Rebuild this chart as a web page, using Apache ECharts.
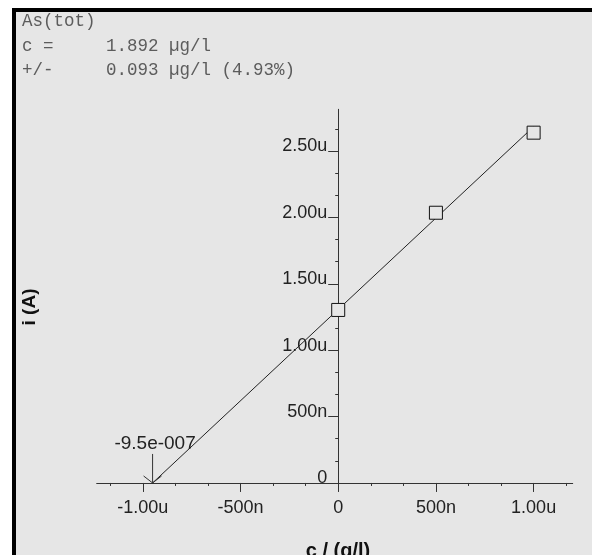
<!DOCTYPE html>
<html>
<head>
<meta charset="utf-8">
<script src="https://cdn.jsdelivr.net/npm/echarts@6/dist/echarts.min.js"></script>
<style>
html,body{margin:0;padding:0;background:#fff;}
#chart{width:592px;height:555px;}
</style>
</head>
<body>
<div id="chart"></div>
<script>
// ---- data ----
const headerLines = ['As(tot)', 'c =     1.892 µg/l', '+/-     0.093 µg/l (4.93%)'];
const xTickValues = [-1e-6, -5e-7, 0, 5e-7, 1e-6];
const xTickLabels = ['-1.00u', '-500n', '0', '500n', '1.00u'];
const yTickValues = [0, 5e-7, 1e-6, 1.5e-6, 2e-6, 2.5e-6];
const yTickLabels = ['0', '500n', '1.00u', '1.50u', '2.00u', '2.50u'];
const xMinorTicks = [-1.1667e-6, -8.333e-7, -6.667e-7, -3.333e-7, -1.667e-7, 1.667e-7, 3.333e-7, 6.667e-7, 8.333e-7, 1.1667e-6];
const yMinorTicks = [1.667e-7, 3.333e-7, 6.667e-7, 8.333e-7, 1.1667e-6, 1.3333e-6, 1.6667e-6, 1.8333e-6, 2.1667e-6, 2.3333e-6, 2.6667e-6];
const standardX = [0, 5e-7, 1e-6];
const standardY = [1.303e-6, 2.035e-6, 2.638e-6];
const fitX = [-9.5e-7, 1e-6];
const fitY = [0, 2.683e-6];
const interceptX = -9.5e-7;
const interceptLabel = '-9.5e-007';
const xTitle = 'c / (g/l)';
const yTitle = 'i (A)';

// ---- chart ----
const sans = '"Liberation Sans", Arial, sans-serif';
const mono = '"Liberation Mono", "Courier New", monospace';
function labelFor(values, labels) {
  return function (v) {
    let best = 0, bd = Infinity;
    values.forEach((t, i) => { const d = Math.abs(t - v); if (d < bd) { bd = d; best = i; } });
    return labels[best];
  };
}
const axisColor = '#333';
const chart = echarts.init(document.getElementById('chart'), null, {renderer: 'canvas'});

const graphic = [
  {type: 'rect', shape: {x: 12, y: 8, width: 580, height: 547}, style: {fill: '#e6e6e6'}, z: -10},
  {type: 'rect', shape: {x: 12, y: 8, width: 4, height: 547}, style: {fill: '#000'}, z: -9},
  {type: 'rect', shape: {x: 12, y: 8, width: 580, height: 4}, style: {fill: '#000'}, z: -9},
  {type: 'text', x: 30, y: 307, rotation: Math.PI / 2, style: {text: yTitle, font: 'bold 19px ' + sans, fill: '#111', align: 'center', verticalAlign: 'middle'}},
  {type: 'text', x: 338, y: 551, style: {text: xTitle, font: 'bold 20px ' + sans, fill: '#111', align: 'center', verticalAlign: 'middle'}}
];
headerLines.forEach((t, i) => {
  graphic.push({type: 'text', x: 22, y: 21.5 + i * 24.5, style: {text: t, font: '17.5px ' + mono, fill: '#5c5c5c', align: 'left', verticalAlign: 'middle'}});
});

const xMin = -1.236e-6, xMax = 1.2e-6, yMin = -0.053e-6, yMax = 2.814e-6;
const gridLeft = 96.7, gridRight = 19.3, gridTop = 109.3, gridBottom = 65;
const gridW = 592 - gridLeft - gridRight, gridH = 555 - gridTop - gridBottom;
// place axis lines where the other axis is zero
const yAxisOffset = -gridW * (0 - xMin) / (xMax - xMin);
const xAxisOffset = -gridH * (0 - yMin) / (yMax - yMin);

const option = {
  animation: false,
  backgroundColor: '#fff',
  graphic: graphic,
  grid: {left: gridLeft, right: gridRight, top: gridTop, bottom: gridBottom, containLabel: false, outerBoundsMode: 'none'},
  xAxis: [
    {type: 'value', min: xMin, max: xMax, position: 'bottom', offset: xAxisOffset,
      axisLine: {show: true, onZero: false, lineStyle: {color: axisColor, width: 1}},
      axisTick: {show: true, customValues: xTickValues, length: 9, lineStyle: {color: axisColor}},
      axisLabel: {show: true, customValues: xTickValues, formatter: labelFor(xTickValues, xTickLabels), margin: 16, color: '#222', fontSize: 18, fontFamily: sans},
      splitLine: {show: false}},
    {type: 'value', min: xMin, max: xMax, position: 'bottom', offset: xAxisOffset,
      axisLine: {show: false, onZero: false},
      axisTick: {show: true, customValues: xMinorTicks, length: 3, lineStyle: {color: axisColor}},
      axisLabel: {show: false},
      splitLine: {show: false}}
  ],
  yAxis: [
    {type: 'value', min: yMin, max: yMax, position: 'left', offset: yAxisOffset,
      axisLine: {show: true, onZero: false, lineStyle: {color: axisColor, width: 1}},
      axisTick: {show: true, customValues: yTickValues, length: 10, lineStyle: {color: axisColor}},
      axisLabel: {show: true, customValues: yTickValues, formatter: labelFor(yTickValues, yTickLabels), margin: 11, color: '#222', fontSize: 18, fontFamily: sans, verticalAlign: 'bottom', lineHeight: 9},
      splitLine: {show: false}},
    {type: 'value', min: yMin, max: yMax, position: 'left', offset: yAxisOffset,
      axisLine: {show: false, onZero: false},
      axisTick: {show: true, customValues: yMinorTicks, length: 3, lineStyle: {color: axisColor}},
      axisLabel: {show: false},
      splitLine: {show: false}}
  ],
  series: [
    {type: 'line', xAxisIndex: 0, yAxisIndex: 0, data: fitX.map((x, i) => [x, fitY[i]]), symbol: 'none',
      lineStyle: {color: '#222', width: 1}, z: 2, silent: true},
    {type: 'scatter', xAxisIndex: 0, yAxisIndex: 0, data: standardX.map((x, i) => [x, standardY[i]]), symbol: 'rect', symbolSize: 13,
      itemStyle: {color: '#e6e6e6', borderColor: '#111', borderWidth: 1, opacity: 1}, z: 5},
    {type: 'custom', xAxisIndex: 0, yAxisIndex: 0, data: [[interceptX, 0]], z: 4,
      renderItem: function (params, api) {
        const p = api.coord([api.value(0), api.value(1)]);
        return {type: 'group', children: [
          {type: 'line', shape: {x1: p[0], y1: p[1] - 29, x2: p[0], y2: p[1]}, style: {stroke: '#333', lineWidth: 1}},
          {type: 'polyline', shape: {points: [[p[0] - 9, p[1] - 7], [p[0], p[1]], [p[0] + 9, p[1] - 7]]}, style: {stroke: '#333', fill: null, lineWidth: 1}},
          {type: 'text', x: p[0] + 2.5, y: p[1] - 39, style: {text: interceptLabel, font: '19px ' + sans, fill: '#222', align: 'center', verticalAlign: 'middle'}}
        ]};
      }}
  ]
};
chart.setOption(option);
</script>
</body>
</html>
